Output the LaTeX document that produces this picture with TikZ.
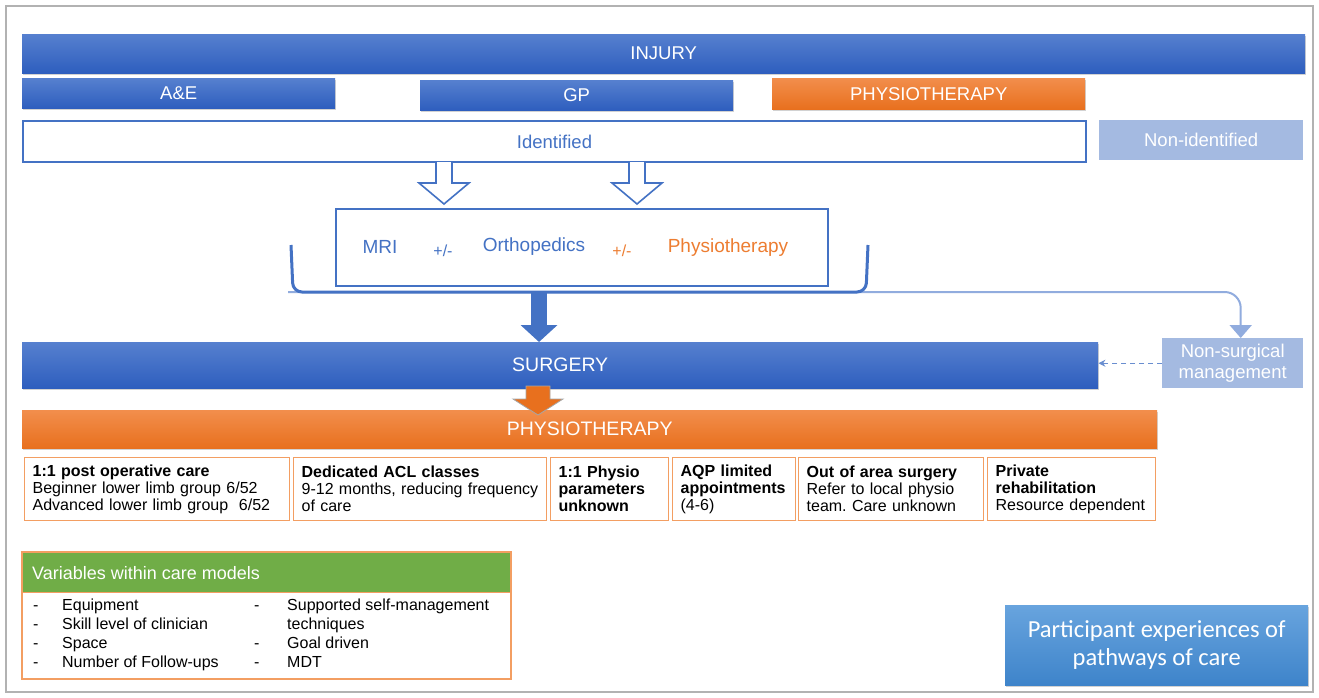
\documentclass[tikz,border=0pt]{standalone}
\usepackage{fontspec}
\setmainfont{Liberation Sans}
\newfontfamily\calibri{Carlito}
\usetikzlibrary{arrows.meta,shadows,calc}
\frenchspacing
\definecolor{bluetop}{RGB}{86,128,207}
\definecolor{bluebot}{RGB}{46,94,190}
\definecolor{orangetop}{RGB}{242,142,76}
\definecolor{orangebot}{RGB}{232,112,30}
\definecolor{paleblue}{RGB}{164,186,225}
\definecolor{lineblue}{RGB}{145,172,222}
\definecolor{textblue}{RGB}{68,114,196}
\definecolor{textorange}{RGB}{237,125,49}
\definecolor{boxorange}{RGB}{243,158,98}
\definecolor{greenhead}{RGB}{112,173,71}
\definecolor{parttop}{RGB}{104,164,222}
\definecolor{partbot}{RGB}{62,132,202}
\begin{document}
\begin{tikzpicture}[x=1pt,y=-1pt,
  shd/.style={drop shadow={shadow xshift=1.2pt,shadow yshift=-1.8pt,opacity=0.35}},
  bluebar/.style={shade,top color=bluetop,bottom color=bluebot,text=white,anchor=north west,inner sep=0pt,shd,font=\fontsize{18.5}{21}\selectfont},
  orangebar/.style={shade,top color=orangetop,bottom color=orangebot,text=white,anchor=north west,inner sep=0pt,shd,font=\fontsize{18.5}{21}\selectfont},
  palebox/.style={fill=paleblue,text=white,anchor=north west,inner sep=0pt,font=\fontsize{18.5}{21}\selectfont,align=center},
  carebox/.style={draw=boxorange,line width=1.3pt,fill=white,anchor=north west,inner xsep=8pt,inner ysep=0pt,align=left,font=\fontsize{16}{17}\selectfont,minimum height=63pt},
  mritext/.style={font=\fontsize{19}{21}\selectfont},
  pmtext/.style={font=\fontsize{16}{18}\selectfont},
  hollowarrow/.style={draw=textblue,line width=1.6pt,fill=white,line join=miter},
]
\useasboundingbox (0,0) rectangle (1319,698);
\fill[white] (0,0) rectangle (1319,698);
% outer frame
\draw[gray!60,line width=1.6pt] (6,6) rectangle (1313,692);

% top bars
\node[bluebar,minimum width=1283pt,minimum height=39pt] (injury) at (22,34) {INJURY};
\node[bluebar,minimum width=313pt,minimum height=30pt] (ae) at (22,78) {A\&E};
\node[bluebar,minimum width=313pt,minimum height=30pt] (gp) at (420,80) {GP};
\node[orangebar,minimum width=313pt,minimum height=31pt] (physA) at (772,78) {PHYSIOTHERAPY};
\node[draw=textblue,line width=2pt,fill=white,anchor=north west,inner sep=0pt,minimum width=1063pt,minimum height=41pt,text=textblue,font=\fontsize{18.5}{21}\selectfont] (ident) at (22,120) {Identified};
\node[palebox,minimum width=204pt,minimum height=40pt] (nonid) at (1099,120) {Non-identified};

% hollow arrows
\foreach \cx in {444,637}{
  \draw[hollowarrow] (\cx-8,162) -- (\cx-8,183) -- (\cx-25,183) -- (\cx,204) -- (\cx+25,183) -- (\cx+8,183) -- (\cx+8,162);
}

% MRI box
\node[draw=textblue,line width=2pt,fill=white,anchor=north west,inner sep=0pt,minimum width=492pt,minimum height=77pt] (mri) at (335,208) {};
\node[mritext,text=textblue] (tmri) at (380,247) {MRI};
\node[pmtext,text=textblue] (pm1) at (443,251) {+/-};
\node[mritext,text=textblue] (tortho) at (534,247) {Orthopedics};
\node[pmtext,text=textorange] (pm2) at (622,251) {+/-};
\node[mritext,text=textorange] (tphys) at (728,248) {Physiotherapy};

% non-surgical box
\node[palebox,minimum width=141pt,minimum height=50pt] (nonsurg) at (1162,338) {Non-surgical\\management};

% light line to non-surgical
\coordinate (brkL) at (288,292);
\draw[lineblue,line width=2pt,rounded corners=16pt,-{Triangle[width=22pt,length=13pt]}] (brkL) -| ($(nonsurg.north)+(8,0)$);
% bracket
\draw[textblue,line width=3pt,rounded corners=9pt] (291,245) -- (293,292) -- (866,292) -- (868,245);

% surgery bar
\node[bluebar,minimum width=1076pt,minimum height=46pt,font=\fontsize{19.5}{22}\selectfont] (surgery) at (22,342) {SURGERY};

% thick arrow bracket -> surgery
\coordinate (brk) at (539,292);
\draw[textblue,line width=16pt,-{Triangle[width=36pt,length=17pt]}] (brk) -- (brk |- surgery.north);

% dashed arrow non-surgical -> surgery
\draw[textblue!80,dash pattern=on 5pt off 4pt,line width=1.3pt,-{Stealth[width=7pt,length=7pt]}] (nonsurg.west) -- (nonsurg.west -| surgery.east);

% physiotherapy bar
\node[orangebar,minimum width=1135pt,minimum height=38pt,font=\fontsize{19.5}{22}\selectfont] (physB) at (22,410) {PHYSIOTHERAPY};

% orange block arrow surgery -> physiotherapy
\draw[fill=orangebot,draw=gray!70,line width=0.8pt,line join=miter] (526,386) -- (526,399) -- (513,399) -- (538,415) -- (563,399) -- (550,399) -- (550,386) -- cycle;

% care model boxes
\node[carebox,text width=249pt] (c1) at (24,457) {\textbf{1:1 post operative care}\\Beginner lower limb group 6/52\\Advanced lower limb group\ \ 6/52};
\node[carebox,text width=237pt] (c2) at (293,457) {\textbf{Dedicated ACL classes}\\9-12 months, reducing frequency\\of care};
\node[carebox,text width=102pt] (c3) at (550,457) {\textbf{1:1 Physio}\\\textbf{parameters}\\\textbf{unknown}};
\node[carebox,text width=107pt] (c4) at (672,457) {\textbf{AQP limited}\\\textbf{appointments}\\(4-6)};
\node[carebox,text width=169pt] (c5) at (798,457) {\textbf{Out of area surgery}\\Refer to local physio\\team. Care unknown};
\node[carebox,text width=152pt] (c6) at (987,457) {\textbf{Private}\\\textbf{rehabilitation}\\Resource dependent};

% variables box
\node[draw=boxorange,line width=1.3pt,fill=white,anchor=north west,inner sep=0pt,minimum width=488pt,minimum height=126pt] (vars) at (22,552) {};
\node[fill=greenhead,anchor=north west,inner sep=0pt,minimum width=488pt,minimum height=40pt] (varhead) at (22,552) {};
\draw[boxorange,line width=1.3pt] (varhead.south west) -- (varhead.south east);
\draw[boxorange,line width=1.3pt] (vars.north west) rectangle (vars.south east);
\node[anchor=west,text=white,font=\fontsize{18}{20}\selectfont,inner sep=0pt] (varhtext) at (32,573) {Variables within care models};
\node[anchor=north west,inner sep=0pt,font=\fontsize{16}{19}\selectfont] (col1) at (33,597) {%
\begin{tabular}{@{}p{29pt}@{}l@{}}
- & Equipment\\
- & Skill level of clinician\\
- & Space\\
- & Number of Follow-ups
\end{tabular}};
\node[anchor=north west,inner sep=0pt,font=\fontsize{16}{19}\selectfont] (col2) at (254,597) {%
\begin{tabular}{@{}p{33pt}@{}l@{}}
- & Supported self-management\\
 & techniques\\
- & Goal driven\\
- & MDT
\end{tabular}};

% participant box
\node[shade,top color=parttop,bottom color=partbot,text=white,anchor=north west,inner sep=0pt,minimum width=303pt,minimum height=80pt,align=center,font=\calibri\fontsize{24.5}{28}\selectfont,shd] (part) at (1005,605) {Participant experiences of\\pathways of care};
\end{tikzpicture}
\end{document}
